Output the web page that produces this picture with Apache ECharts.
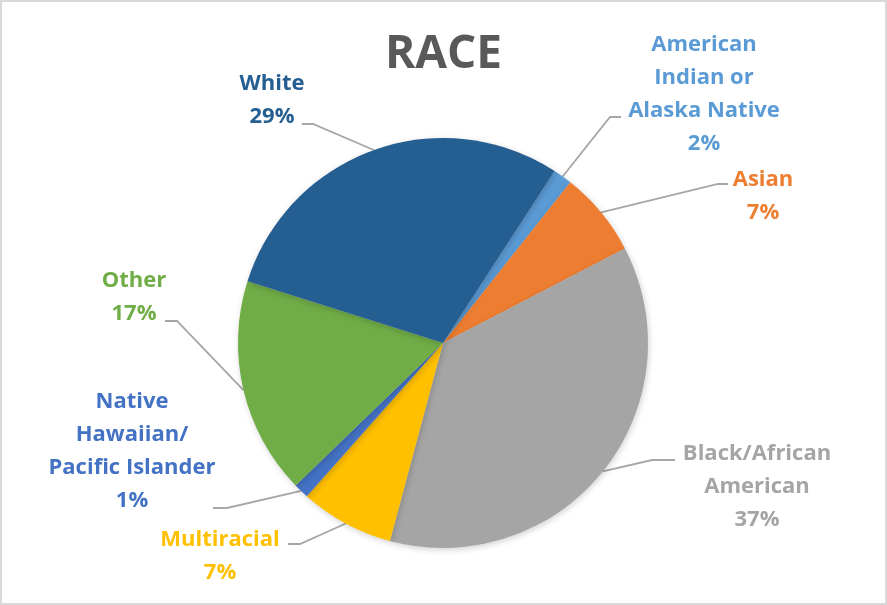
<!DOCTYPE html>
<html>
<head>
<meta charset="utf-8">
<script src="https://cdn.jsdelivr.net/npm/echarts@6/dist/echarts.min.js"></script>
<style>
html,body{margin:0;padding:0;background:#fff;}
#chart{width:887px;height:605px;}
#frame{position:absolute;left:0;top:0;width:887px;height:605px;box-sizing:border-box;border:2px solid #D9D9D9;pointer-events:none;}
</style>
</head>
<body>
<div id="chart"></div>
<div id="frame"></div>
<script>
// ---- data ----
var categories = ['American\nIndian or\nAlaska Native', 'Asian', 'Black/African\nAmerican', 'Multiracial', 'Native\nHawaiian/\nPacific Islander', 'Other', 'White'];
var shares = [1.5, 6.7, 36.8, 7.4, 1.2, 17.1, 29.3];
var colors = ['#5B9BD5', '#ED7D31', '#A5A5A5', '#FFC000', '#4472C4', '#70AD47', '#255E91'];
var titleText = 'RACE';

// ---- label placement (layout only) ----
// cx, cy: label centre; ax, ay: leader anchor near label; bx: bend x
var labelPlace = [
  {cx: 704, cy: 94,  ax: 621, ay: 117, bx: 610},
  {cx: 763, cy: 196, ax: 728, ay: 184, bx: 718},
  {cx: 757, cy: 487, ax: 675, ay: 460, bx: 652},
  {cx: 220, cy: 556, ax: 288, ay: 544, bx: 300},
  {cx: 132, cy: 451, ax: 213, ay: 508, bx: 227},
  {cx: 134, cy: 297, ax: 165, ay: 321, bx: 177},
  {cx: 272, cy: 100, ax: 302, ay: 124, bx: 313}
];

var chart = echarts.init(document.getElementById('chart'));
var seriesData = categories.map(function (c, i) {
  return {
    name: c,
    value: shares[i],
    itemStyle: {color: colors[i]},
    label: {color: colors[i]}
  };
});

chart.setOption({
  animation: false,
  backgroundColor: '#ffffff',
  title: {
    text: titleText,
    left: 'center',
    top: 27,
    textStyle: {fontFamily: 'Open Sans', fontWeight: 'bold', fontSize: 46, color: '#595959'}
  },
  series: [{
    type: 'pie',
    center: [443, 343],
    radius: 205,
    startAngle: 57,
    clockwise: true,
    avoidLabelOverlap: false,
    data: seriesData,
    itemStyle: {borderWidth: 0, shadowBlur: 6, shadowColor: 'rgba(0,0,0,0.18)', shadowOffsetX: 1, shadowOffsetY: 2},
    label: {
      show: true,
      position: 'outside',
      fontFamily: 'Open Sans',
      fontWeight: 'bold',
      fontSize: 22,
      lineHeight: 33,
      align: 'center',
      formatter: function (p) { return p.name + '\n' + Math.round(p.percent) + '%'; }
    },
    labelLine: {show: true, smooth: false, lineStyle: {color: '#A6A6A6', width: 1.8}},
    labelLayout: function (params) {
      var lp = labelPlace[params.dataIndex];
      var p0 = params.labelLinePoints ? params.labelLinePoints[0] : [lp.bx, lp.ay];
      return {
        x: lp.cx,
        y: lp.cy,
        align: 'center',
        verticalAlign: 'middle',
        labelLinePoints: [[p0[0], p0[1]], [lp.bx, lp.ay], [lp.ax, lp.ay]]
      };
    }
  }]
});
</script>
</body>
</html>
